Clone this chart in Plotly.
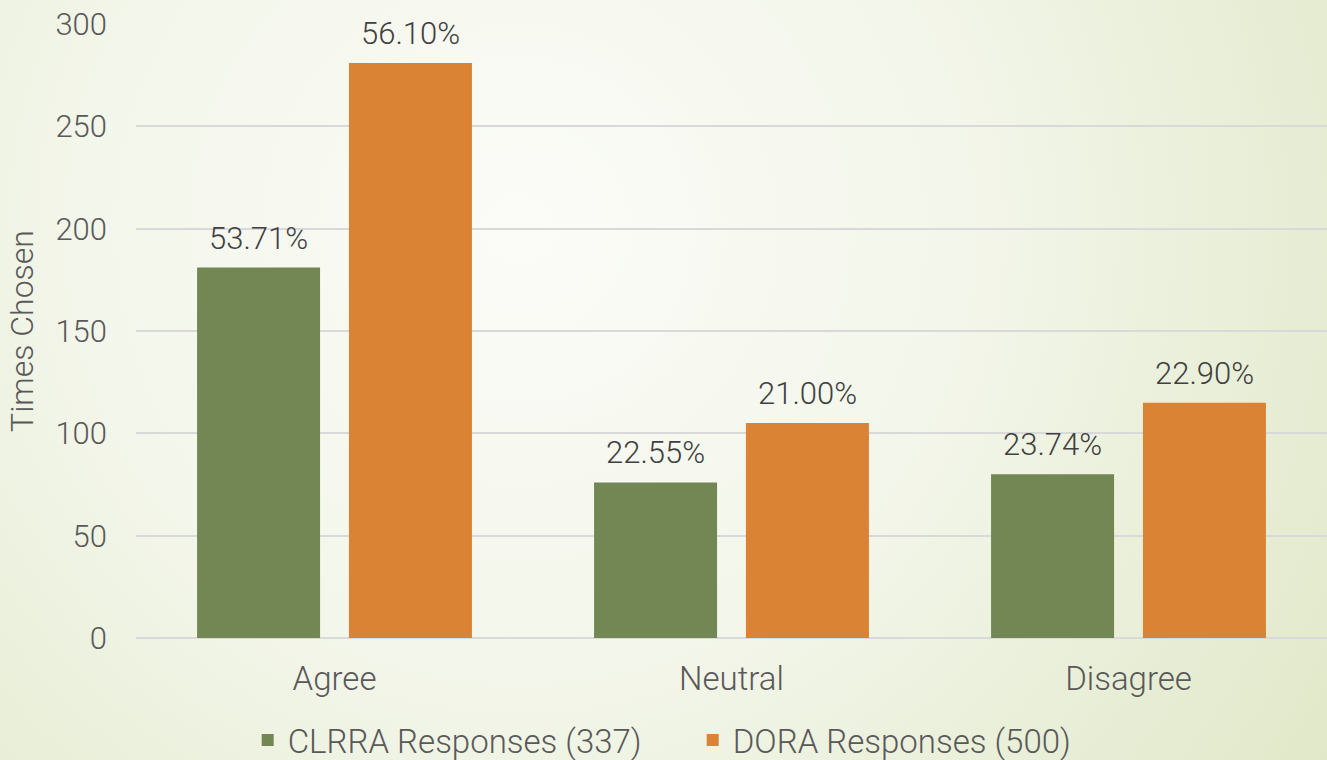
import base64
import plotly.graph_objects as go

# Survey answers and counts per source
categories = ["Agree", "Neutral", "Disagree"]
clrra_counts = [181, 76, 80]
dora_counts = [281, 105, 115]
clrra_pct = ["53.71%", "22.55%", "23.74%"]
dora_pct = ["56.10%", "21.00%", "22.90%"]
series_names = ["CLRRA Responses (337)", "DORA Responses (500)"]
y_ticks = [0, 50, 100, 150, 200, 250, 300]

W, H = 1327, 760
M_L, M_R, M_T, M_B = 136, 0, 24, 122
plot_w = W - M_L - M_R
plot_h = H - M_T - M_B
BARGAP, BARGROUPGAP = 0.235, 0.19

# Soft light-green backdrop with a pale centre
svg = f"""<svg xmlns='http://www.w3.org/2000/svg' width='{W}' height='{H}' viewBox='0 0 {W} {H}' preserveAspectRatio='none'>
<defs><radialGradient id='g' gradientUnits='userSpaceOnUse' cx='520' cy='230' r='980'>
<stop offset='0' stop-color='#FBFCF8'/>
<stop offset='0.45' stop-color='#F3F6EA'/>
<stop offset='1' stop-color='#E0E8C8'/>
</radialGradient></defs>
<rect width='{W}' height='{H}' fill='url(#g)'/></svg>"""
bg_uri = "data:image/svg+xml;base64," + base64.b64encode(svg.encode()).decode()

FONT = "Roboto"
label_font = dict(family=FONT, size=31, color="#404040", weight=300)
axis_font = dict(family=FONT, size=31, color="#595959", weight=300)

fig = go.Figure()
fig.add_trace(go.Bar(
    x=categories, y=clrra_counts, name=series_names[0],
    marker=dict(color="#728753", line=dict(width=0)),
))
fig.add_trace(go.Bar(
    x=categories, y=dora_counts, name=series_names[1],
    marker=dict(color="#DA8334", line=dict(width=0)),
))

# Percentage labels above each bar, shifted to the centre of its bar slot
group_px = plot_w / len(categories)
slot_px = group_px * (1 - BARGAP) / 2
annotations = []
for i, (vals, labels) in enumerate([(clrra_counts, clrra_pct), (dora_counts, dora_pct)]):
    shift = (i - 0.5) * slot_px
    for cat, v, lab in zip(categories, vals, labels):
        annotations.append(dict(
            x=cat, y=v, xref="x", yref="y", text=lab, showarrow=False,
            xshift=shift, yshift=9, yanchor="bottom", xanchor="center",
            font=label_font,
        ))

fig.update_layout(
    width=W, height=H,
    margin=dict(l=M_L, r=M_R, t=M_T, b=M_B, pad=0),
    paper_bgcolor="#F1F5E6",
    plot_bgcolor="rgba(0,0,0,0)",
    barmode="group",
    bargap=BARGAP,
    bargroupgap=BARGROUPGAP,
    showlegend=True,
    legend=dict(
        orientation="h", x=0.522, xref="container", xanchor="center",
        y=(H - 740) / H, yref="container", yanchor="middle",
        font=dict(family=FONT, size=33, color="#595959", weight=300),
        bgcolor="rgba(0,0,0,0)", itemwidth=30,
        entrywidth=400, entrywidthmode="pixels",
    ),
    font=dict(family=FONT, color="#595959"),
    annotations=annotations,
    images=[dict(
        source=bg_uri, xref="paper", yref="paper",
        x=-M_L / plot_w, y=1 + M_T / plot_h,
        sizex=W / plot_w, sizey=H / plot_h,
        xanchor="left", yanchor="top", sizing="stretch", layer="below",
    )],
)

fig.update_xaxes(
    showgrid=False, showline=False, ticks="",
    tickfont=dict(family=FONT, size=33, color="#595959", weight=300),
    ticklabelstandoff=18,
)
fig.update_yaxes(
    range=[0, 300], tickvals=y_ticks,
    showgrid=True, gridcolor="#D9D9D9", gridwidth=2,
    zeroline=True, zerolinecolor="#D9D9D9", zerolinewidth=2,
    showline=False, ticks="",
    tickfont=axis_font,
    ticklabelstandoff=28,
    title=dict(text="Times Chosen", font=dict(family=FONT, size=32, color="#595959", weight=300), standoff=12),
)

fig.write_html("out.html")
